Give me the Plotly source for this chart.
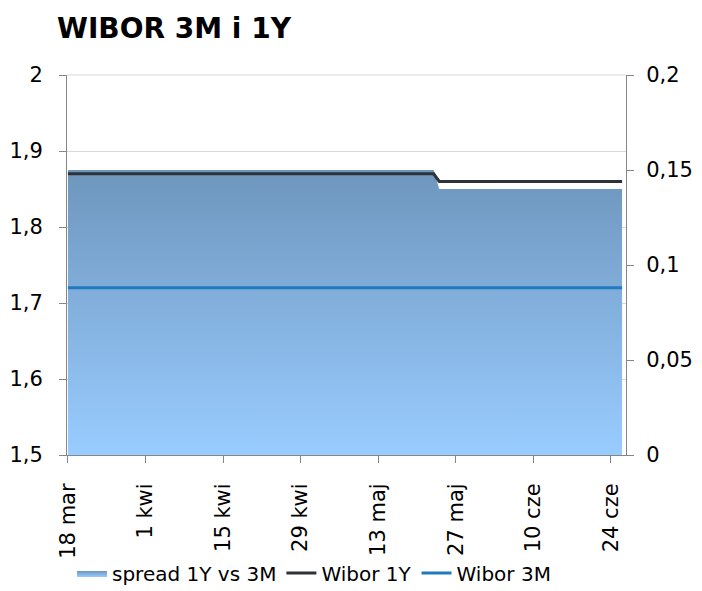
import plotly.graph_objects as go

# observed points (values are flat between them)
dates = ["2016-03-18", "2016-05-23", "2016-05-24", "2016-06-26"]
wibor_1y = [1.87, 1.87, 1.86, 1.86]
wibor_3m = [1.72, 1.72, 1.72, 1.72]
spread = [0.15, 0.15, 0.14, 0.14]

tick_dates = ["2016-03-18", "2016-04-01", "2016-04-15", "2016-04-29",
              "2016-05-13", "2016-05-27", "2016-06-10", "2016-06-24"]
tick_labels = ["18 mar", "1 kwi", "15 kwi", "29 kwi", "13 maj", "27 maj", "10 cze", "24 cze"]

FONT = "DejaVu Sans, Verdana, sans-serif"
AXIS_GREY = "#868686"
GRID_GREY = "#D9D9D9"

# the page body keeps its default 8px margin, so the figure is 8px smaller
W, H = 694, 583
L, R, T, B = 59, 76, 67, 136
plot_w, plot_h = W - L - R, H - T - B

fig = go.Figure()
fig.add_trace(go.Scatter(
    x=dates, y=spread, name="spread 1Y vs 3M", yaxis="y",
    mode="lines", line=dict(width=0), fill="tozeroy",
    fillgradient=dict(type="vertical", start=0, stop=0.15,
                      colorscale=[[0, "#99CCFF"], [1, "#6E96BD"]]),
))
fig.add_trace(go.Scatter(
    x=dates, y=wibor_1y, name="Wibor 1Y", yaxis="y2",
    mode="lines", line=dict(color="#2E3236", width=3),
))
fig.add_trace(go.Scatter(
    x=dates, y=wibor_3m, name="Wibor 3M", yaxis="y2",
    mode="lines", line=dict(color="#1F7BC0", width=3),
))

# top border of the plot area (light, like the gridlines)
fig.add_shape(type="line", xref="paper", yref="paper", x0=0, x1=1, y0=1, y1=1,
              line=dict(color=GRID_GREY, width=1), layer="below")

fig.update_layout(
    width=W, height=H,
    margin=dict(l=L, r=R, t=T, b=B, autoexpand=False),
    paper_bgcolor="white", plot_bgcolor="white",
    separators=", ",
    font=dict(family=FONT, size=21, color="black"),
    title=dict(text="<b>WIBOR 3M i 1Y</b>", x=49 / W, xanchor="left",
               y=1 - 20.5 / H, yanchor="middle",
               font=dict(family=FONT, size=28, color="black")),
    showlegend=True,
    legend=dict(orientation="h", x=5 / plot_w, xanchor="left",
                y=-118 / plot_h, yanchor="middle",
                font=dict(family=FONT, size=20), itemwidth=30,
                traceorder="normal", bgcolor="rgba(0,0,0,0)"),
    xaxis=dict(
        type="date", range=["2016-03-17 20:00", "2016-06-26 17:00"],
        tickvals=tick_dates, ticktext=tick_labels, tickangle=-90,
        showgrid=False, showline=True, linecolor=AXIS_GREY, linewidth=1,
        ticks="outside", ticklen=7, tickcolor=AXIS_GREY, zeroline=False,
        ticklabelstandoff=12, automargin=False,
    ),
    yaxis=dict(
        side="right", range=[0, 0.2], dtick=0.05, tick0=0,
        showgrid=False, showline=True, linecolor=AXIS_GREY,
        ticks="outside", ticklen=7, tickcolor=AXIS_GREY, zeroline=False,
        ticklabelstandoff=8, automargin=False,
    ),
    yaxis2=dict(
        overlaying="y", side="left", range=[1.5, 2.0], dtick=0.1, tick0=1.5,
        showgrid=True, gridcolor=GRID_GREY, showline=True, linecolor=AXIS_GREY,
        ticks="outside", ticklen=7, tickcolor=AXIS_GREY, zeroline=False,
        ticklabelstandoff=12, automargin=False,
    ),
)

fig.write_html("out.html")
